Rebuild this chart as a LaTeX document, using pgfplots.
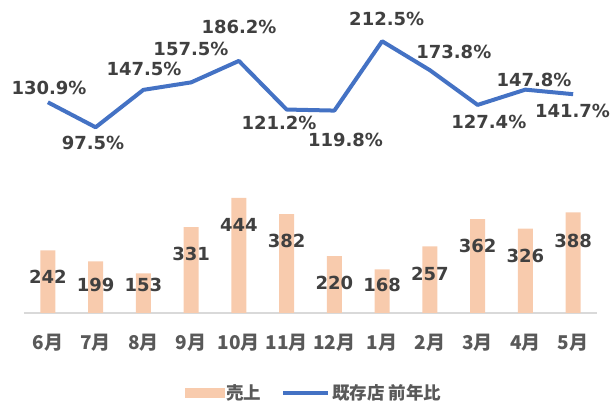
\documentclass[border=0pt]{standalone}
\usepackage{fontspec}
\setmainfont{DejaVu Sans}
\newfontfamily\cjk{Noto Sans CJK JP}
\usepackage{pgfplots}
\usepackage{pgfplotstable}
\pgfplotsset{compat=1.18}
\definecolor{barc}{HTML}{F8CBAD}
\definecolor{linec}{HTML}{4472C4}
\definecolor{txt}{HTML}{404040}
\definecolor{tickc}{HTML}{595959}
\definecolor{basec}{HTML}{D9D9D9}

\pgfplotstableread{
x val ly
0 242 139
1 199 109
2 153 109
3 331 229
4 444 341
5 382 279
6 220 116
7 168 109
8 257 151
9 362 260
10 326 221
11 388 280
}\bardata

\pgfplotstableread{
x y lx ly lab
0 130.9 0.024 150.0 130.9
1 97.5 0.945 76.1 97.5
2 147.5 2.013 175.0 147.5
3 157.5 2.997 201.7 157.5
4 186.2 4.003 231.1 186.2
5 121.2 4.840 102.8 121.2
6 119.8 6.233 80.5 119.8
7 212.5 7.096 241.8 212.5
8 173.8 8.501 197.7 173.8
9 127.4 9.234 104.9 127.4
10 147.8 10.181 160.7 147.8
11 141.7 10.987 119.3 141.7
}\linedata

\begin{document}
\begin{tikzpicture}
\path[use as bounding box] (0,0) rectangle (614pt,401pt);
\begin{axis}[
  at={(24pt,88pt)}, anchor=south west,
  scale only axis, width=573pt, height=293pt,
  xmin=-0.5, xmax=11.5, ymin=0, ymax=1131,
  axis x line*=bottom, axis y line=none,
  axis line style={basec, line width=1.5pt},
  ytick=\empty,
  xtick={0,...,11},
  xticklabels={6月,7月,8月,9月,10月,11月,12月,1月,2月,3月,4月,5月},
  major tick length=0pt,
  xticklabel style={anchor=center, yshift=-30pt, text=tickc,
    font=\cjk\bfseries\fontsize{19}{21}\selectfont},
  clip=false,
]
\addplot[ybar, bar width=15pt, fill=barc, draw=none] table[x=x, y=val] {\bardata};
\addplot[draw=none, mark=none, point meta=explicit symbolic,
  nodes near coords={\pgfplotspointmeta},
  nodes near coords style={anchor=center, text=txt,
    font=\bfseries\fontsize{18}{20}\selectfont}]
  table[x=x, y=ly, meta=val] {\bardata};
\end{axis}
\begin{axis}[
  at={(24pt,88pt)}, anchor=south west,
  scale only axis, width=573pt, height=293pt,
  xmin=-0.5, xmax=11.5, ymin=-150.8, ymax=240.9,
  hide axis, clip=false,
  legend style={draw=none, fill=none, at={(0.506,-0.273)}, anchor=center,
    legend columns=2, text=tickc,
    font=\cjk\bfseries\fontsize{17.5}{19}\selectfont,
    /tikz/every even column/.append style={column sep=18pt}},
  legend cell align=left,
]
\addlegendimage{legend image code/.code={\fill[barc] (0pt,-4.5pt) rectangle (39pt,4.5pt);}}
\addlegendentry{売上}
\addplot[linec, line width=4pt, line join=round, mark=none,
  legend image code/.code={\draw[linec, line width=4pt] (0pt,0pt) -- (45pt,0pt);}]
  table[x=x, y=y] {\linedata};
\addlegendentry{既存店 前年比}
\addplot[draw=none, mark=none, forget plot, point meta=explicit symbolic,
  nodes near coords={\pgfplotspointmeta\%},
  nodes near coords style={anchor=center, text=txt,
    font=\bfseries\fontsize{18}{20}\selectfont}]
  table[x=lx, y=ly, meta=lab] {\linedata};
\end{axis}
\end{tikzpicture}
\end{document}
